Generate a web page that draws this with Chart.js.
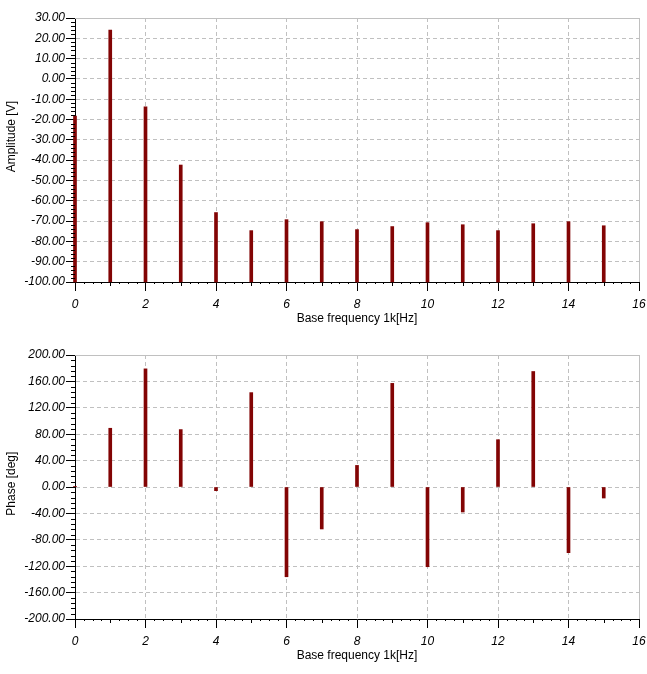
<!DOCTYPE html>
<html>
<head>
<meta charset="utf-8">
<script src="https://cdn.jsdelivr.net/npm/chart.js@4/dist/chart.umd.min.js"></script>
<style>
  body { margin: 0; background: #fff; }
  canvas { display: block; }
</style>
</head>
<body>
<canvas id="ampChart" width="647" height="337"></canvas>
<canvas id="phaseChart" width="647" height="337"></canvas>
<script>
// harmonic number (base frequency 1 kHz)
const harmonics = [0, 1, 2, 3, 4, 5, 6, 7, 8, 9, 10, 11, 12, 13, 14, 15]
// amplitude [V] (floor at -100)
const amplitude = [-18.3, 24.1, -13.8, -42.4, -65.8, -74.7, -69.3, -70.3, -74.2, -72.7, -70.8, -71.8, -74.7, -71.3, -70.3, -72.3]
// phase [deg]
const phase = [0.5, 89, 179, 87, -5.6, 143, -136, -63.6, 32.7, 157, -120.8, -37.9, 71.7, 175, -99.5, -16.7]

const ampRange = [-100, 30]
const phaseRange = [-200, 200]

const barColor = "#820404"
const gridColor = "#c0c0c0"
const labelFont = { family: "Liberation Sans, Arial, sans-serif", size: 12, style: "italic" }
const titleFont = { family: "Liberation Sans, Arial, sans-serif", size: 12 }

// minor ticks + grey frame on top/right
const minorTicks = {
   id: "minorTicks",
   afterDraw(chart, args, opts) {
      const { ctx, chartArea: a, scales } = chart
      const x = scales.x
      const y = scales.y
      ctx.save()
      ctx.lineWidth = 1
      ctx.strokeStyle = gridColor
      ctx.beginPath()
      ctx.moveTo(a.left, Math.round(a.top) + 0.5)
      ctx.lineTo(Math.round(a.right) + 0.5, Math.round(a.top) + 0.5)
      ctx.lineTo(Math.round(a.right) + 0.5, a.bottom)
      ctx.stroke()

      ctx.strokeStyle = "#000"
      ctx.beginPath()
      for (let i = 0; i <= 64; i++) {
         if (i % 8 === 0) continue
         const px = Math.round(x.getPixelForValue(i * 0.25)) + 0.5
         const len = i % 4 === 0 ? 4 : 2
         ctx.moveTo(px, Math.round(a.bottom))
         ctx.lineTo(px, Math.round(a.bottom) + len)
      }
      const n = Math.round((y.max - y.min) / opts.yStep)
      const per = Math.round(opts.yMajor / opts.yStep)
      for (let i = 0; i <= n; i++) {
         if (i % per === 0) continue
         const py = Math.round(y.getPixelForValue(y.min + i * opts.yStep)) + 0.5
         ctx.moveTo(Math.round(a.left) - 4, py)
         ctx.lineTo(Math.round(a.left), py)
      }
      ctx.stroke()
      ctx.restore()
   },
}

make_chart = (canvasId, values, base, range, yMajor, yMinor, yTitle) => {
   const ctx = document.getElementById(canvasId).getContext("2d")
   return new Chart(ctx, {
      type: "bar",
      data: {
         datasets: [
            {
               data: harmonics.map((h, i) => ({ x: h, y: [base, values[i]] })),
               backgroundColor: barColor,
               borderWidth: 0,
               barThickness: 3,
               clip: false,
            },
         ],
      },
      plugins: [minorTicks],
      options: {
         responsive: false,
         animation: false,
         layout: { padding: { top: 18, right: 8, bottom: 0, left: 0 } },
         plugins: {
            legend: { display: false },
            tooltip: { enabled: false },
            minorTicks: { yStep: yMinor, yMajor: yMajor },
         },
         scales: {
            x: {
               type: "linear",
               offset: false,
               min: 0,
               max: 16,
               afterFit: s => {
                  s.height = 55
                  s.paddingLeft = 0
                  s.paddingRight = 0
               },
               ticks: {
                  stepSize: 2,
                  autoSkip: false,
                  maxRotation: 0,
                  padding: 6,
                  color: "#000",
                  font: labelFont,
               },
               grid: {
                  offset: false,
                  color: gridColor,
                  tickColor: "#000",
                  tickLength: 9,
               },
               border: { color: "#000", dash: [4, 3] },
               title: {
                  display: true,
                  text: "Base frequency 1k[Hz]",
                  color: "#000",
                  font: titleFont,
                  padding: { top: 0, bottom: 11 },
               },
            },
            y: {
               min: range[0],
               max: range[1],
               afterFit: s => {
                  s.width = 75
                  s.paddingTop = 0
                  s.paddingBottom = 0
               },
               ticks: {
                  stepSize: yMajor,
                  autoSkip: false,
                  padding: 1,
                  color: "#000",
                  font: labelFont,
                  callback: v => v.toFixed(2),
               },
               grid: {
                  color: gridColor,
                  tickColor: "#000",
                  tickLength: 9,
               },
               border: { color: "#000", dash: [4, 3] },
               title: {
                  display: true,
                  text: yTitle,
                  color: "#000",
                  font: titleFont,
                  padding: { top: 4, bottom: 0 },
               },
            },
         },
      },
   })
}

make_chart("ampChart", amplitude, ampRange[0], ampRange, 10, 2, "        Amplitude [V]")
make_chart("phaseChart", phase, 0, phaseRange, 40, 8, "  Phase [deg]")
</script>
</body>
</html>
